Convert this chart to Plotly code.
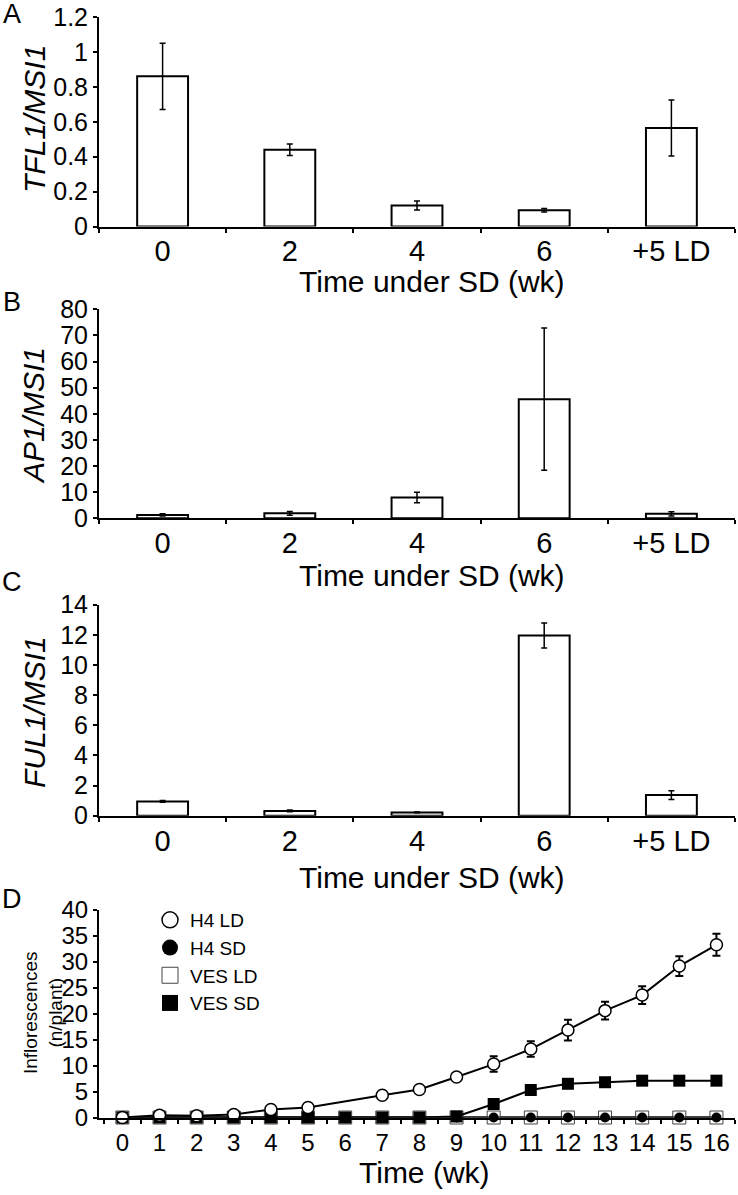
import plotly.graph_objects as go

# ---------------- data ----------------
categories = ["0", "2", "4", "6", "+5 LD"]
tfl1 = [0.86, 0.44, 0.12, 0.093, 0.564]
tfl1_err = [0.19, 0.033, 0.026, 0.01, 0.16]
ap1 = [1.3, 1.9, 8.0, 45.6, 1.7]
ap1_err = [0.4, 0.7, 2.0, 27.2, 0.85]
ful1 = [0.95, 0.32, 0.22, 11.95, 1.37]
ful1_err = [0.06, 0.05, 0.03, 0.83, 0.29]

weeks = [str(w) for w in range(17)]
h4_ld = [0, 0.45, 0.35, 0.58, 1.55, 1.93, None, 4.3, 5.4, 7.8, 10.3, 13.2, 16.85, 20.6, 23.6, 29.2, 33.3]
h4_ld_err = [0, 0.1, 0.1, 0.1, 0.2, 0.2, None, 0.4, 0.5, 0.6, 1.5, 1.5, 2.0, 1.7, 1.7, 1.9, 2.1]
h4_sd = [0] * 17
ves_ld = [0] * 17
ves_sd = [0, 0, 0, 0, 0, 0, 0, 0, 0, 0.2, 2.6, 5.3, 6.5, 6.8, 7.1, 7.1, 7.1]

series_names = ["H4 LD", "H4 SD", "VES LD", "VES SD"]

W, H = 738, 1195
FONT = "Liberation Sans, Arial, sans-serif"


def px_x(p):
    return p / W


def px_y(p):
    return 1 - p / H


fig = go.Figure()

bar_panels = [
    ("x", "y", tfl1, tfl1_err),
    ("x2", "y2", ap1, ap1_err),
    ("x3", "y3", ful1, ful1_err),
]
for xa, ya, vals, errs in bar_panels:
    fig.add_trace(go.Bar(
        x=categories, y=vals, xaxis=xa, yaxis=ya, width=0.4,
        marker=dict(color="white", line=dict(color="black", width=2)),
        error_y=dict(type="data", array=errs, color="black", thickness=1.5, width=3),
        showlegend=False,
    ))

marker_styles = {
    "H4 LD": dict(symbol="circle", size=12, color="white", line=dict(color="black", width=1.5)),
    "H4 SD": dict(symbol="circle", size=10, color="black"),
    "VES LD": dict(symbol="square", size=13, color="white", line=dict(color="#444", width=1)),
    "VES SD": dict(symbol="square", size=12, color="black"),
}
line_style = dict(color="black", width=2)

# panel D data traces (draw order: VES LD, H4 SD, VES SD, H4 LD)
fig.add_trace(go.Scatter(x=weeks, y=ves_ld, xaxis="x4", yaxis="y4", mode="lines+markers",
                         line=line_style, marker=marker_styles["VES LD"], cliponaxis=False,
                         showlegend=False))
fig.add_trace(go.Scatter(x=weeks, y=h4_sd, xaxis="x4", yaxis="y4", mode="lines+markers",
                         line=line_style, marker=marker_styles["H4 SD"], cliponaxis=False,
                         showlegend=False))
fig.add_trace(go.Scatter(x=weeks, y=ves_sd, xaxis="x4", yaxis="y4", mode="lines+markers",
                         line=line_style, marker=marker_styles["VES SD"], cliponaxis=False,
                         showlegend=False))
fig.add_trace(go.Scatter(x=weeks, y=h4_ld, xaxis="x4", yaxis="y4", mode="lines+markers",
                         line=line_style, connectgaps=True, marker=marker_styles["H4 LD"],
                         error_y=dict(type="data", array=h4_ld_err, color="black", thickness=2, width=4),
                         cliponaxis=False, showlegend=False))

# legend entries (markers only, as in the reference legend)
for name in series_names:
    ms = dict(marker_styles[name])
    ms["size"] = 16
    fig.add_trace(go.Scatter(x=[None], y=[None], xaxis="x4", yaxis="y4", mode="markers",
                             name=name, marker=ms, showlegend=True))

xdom = [px_x(99), px_x(735)]
common_x = dict(
    domain=xdom, type="category", showline=True, linecolor="black", linewidth=2,
    ticks="outside", tickson="boundaries", ticklen=4, tickwidth=2, tickcolor="black",
    showgrid=False, zeroline=False, automargin=False, ticklabelstandoff=-2,
    tickfont=dict(family=FONT, size=29, color="black"),
    range=[-0.5, 4.5], fixedrange=True,
)
common_y = dict(
    showline=True, linecolor="black", linewidth=2, ticks="outside", ticklen=4,
    tickwidth=2, tickcolor="black", showgrid=False, zeroline=False, automargin=False,
    tickfont=dict(family=FONT, size=25, color="black"),
)

fig.update_layout(
    width=W, height=H, autosize=False,
    margin=dict(l=0, r=0, t=0, b=0),
    paper_bgcolor="white", plot_bgcolor="white",
    font=dict(family=FONT, color="black"),
    xaxis=dict(common_x, anchor="y"),
    yaxis=dict(common_y, anchor="x", domain=[px_y(226.5), px_y(17)], range=[0, 1.2], dtick=0.2),
    xaxis2=dict(common_x, anchor="y2"),
    yaxis2=dict(common_y, anchor="x2", domain=[px_y(518.3), px_y(309.3)], range=[0, 80], dtick=10),
    xaxis3=dict(common_x, anchor="y3"),
    yaxis3=dict(common_y, anchor="x3", domain=[px_y(815.7), px_y(604.7)], range=[0, 14], dtick=2),
    xaxis4=dict(common_x, anchor="y4", range=[-0.63, 16.5], ticklabelstandoff=3,
                tickfont=dict(family=FONT, size=24, color="black")),
    yaxis4=dict(common_y, anchor="x4", domain=[px_y(1117.5), px_y(910)], range=[0, 40], dtick=5,
                tickfont=dict(family=FONT, size=24, color="black")),
    legend=dict(x=px_x(150), y=px_y(901), xanchor="left", yanchor="top",
                bgcolor="rgba(0,0,0,0)", font=dict(family=FONT, size=19, color="black"),
                tracegroupgap=0, itemwidth=30),
    bargap=0.6,
)

annots = []
# panel letters
for letter, yy in [("A", 14), ("B", 302), ("C", 582), ("D", 899)]:
    annots.append(dict(text=letter, x=px_x(12), y=px_y(yy), xref="paper", yref="paper",
                       xanchor="center", yanchor="middle", showarrow=False,
                       font=dict(family=FONT, size=27, color="black")))
# x titles
for yy in [282, 575, 877]:
    annots.append(dict(text="Time under SD (wk)", x=px_x(432), y=px_y(yy), xref="paper", yref="paper",
                       xanchor="center", yanchor="middle", showarrow=False,
                       font=dict(family=FONT, size=30, color="black")))
annots.append(dict(text="Time (wk)", x=px_x(424), y=px_y(1172), xref="paper", yref="paper",
                   xanchor="center", yanchor="middle", showarrow=False,
                   font=dict(family=FONT, size=30, color="black")))
# y titles
for txt, yy in [("<i>TFL1/MSI1</i>", 119), ("<i>AP1/MSI1</i>", 416), ("<i>FUL1/MSI1</i>", 712)]:
    annots.append(dict(text=txt, x=px_x(34), y=px_y(yy), xref="paper", yref="paper",
                       xanchor="center", yanchor="middle", showarrow=False, textangle=-90,
                       font=dict(family=FONT, size=30, color="black")))
annots.append(dict(text="Inflorescences<br>(n/plant)", x=px_x(43), y=px_y(1013),
                   xref="paper", yref="paper", xanchor="center", yanchor="middle",
                   showarrow=False, textangle=-90, align="center",
                   font=dict(family=FONT, size=19, color="black")))
fig.update_layout(annotations=annots)

fig.write_html("out.html", config={"displayModeBar": False},
               post_script="document.body.style.margin='0';")
